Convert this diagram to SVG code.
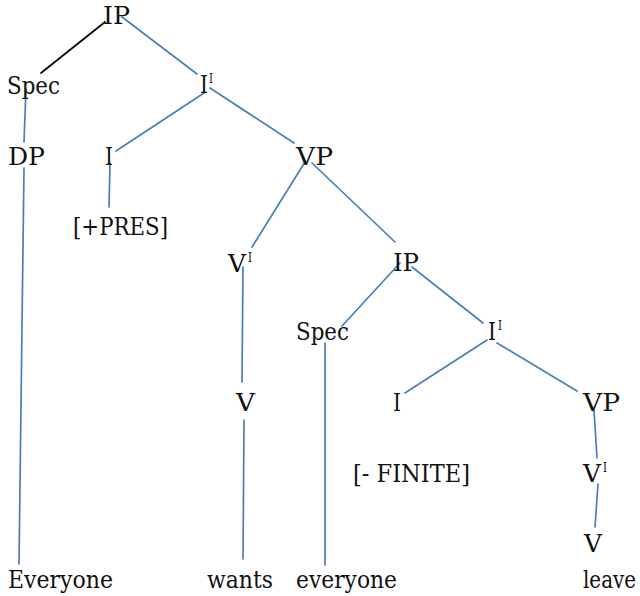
<svg xmlns="http://www.w3.org/2000/svg" width="640" height="596" viewBox="0 0 640 596">
  <style>
    .lbl { font-family: 'DejaVu Serif', serif; font-size: 25px; fill: #111; }
    .sup { font-size: 13px; }
    .edge { stroke: #4a7ebb; stroke-width: 1.7; fill: none; stroke-linecap: round; }
    .edge.dark { stroke: #000; }
  </style>
  <rect width="640" height="596" fill="#fff"/>

  <g id="connectors">
    <line class="edge dark" x1="105" y1="22" x2="41" y2="73"/>
    <line class="edge" x1="122" y1="17" x2="197" y2="74"/>
    <line class="edge" x1="26" y1="88" x2="24" y2="142"/>
    <line class="edge" x1="24" y1="168" x2="19" y2="564"/>
    <line class="edge" x1="204" y1="93" x2="116" y2="151"/>
    <line class="edge" x1="210" y1="88" x2="294" y2="143"/>
    <line class="edge" x1="110" y1="163" x2="109" y2="207"/>
    <line class="edge" x1="305" y1="162" x2="252" y2="247"/>
    <line class="edge" x1="312" y1="163" x2="395" y2="242"/>
    <line class="edge" x1="243" y1="267" x2="242" y2="382"/>
    <line class="edge" x1="244" y1="420" x2="243" y2="559"/>
    <line class="edge" x1="400" y1="263" x2="342" y2="326"/>
    <line class="edge" x1="412" y1="267" x2="483" y2="323"/>
    <line class="edge" x1="487" y1="340" x2="405" y2="393"/>
    <line class="edge" x1="497" y1="343" x2="577" y2="391"/>
    <line class="edge" x1="325" y1="343" x2="325" y2="565"/>
    <line class="edge" x1="594" y1="410" x2="597" y2="458"/>
    <line class="edge" x1="598" y1="484" x2="595" y2="527"/>
  </g>

  <g class="lbl">
    <g id="ip-root"><text x="103" y="24" textLength="27" lengthAdjust="spacingAndGlyphs">IP</text></g>
    <g id="spec-1"><text x="7" y="94" textLength="53" lengthAdjust="spacingAndGlyphs">Spec</text></g>
    <g id="ibar-1"><text x="200" y="93" textLength="8" lengthAdjust="spacingAndGlyphs">I</text><text class="sup" x="209" y="83" textLength="4" lengthAdjust="spacingAndGlyphs">I</text></g>
    <g id="dp"><text x="8" y="165" textLength="37" lengthAdjust="spacingAndGlyphs">DP</text></g>
    <g id="i-1"><text x="105" y="165" textLength="8" lengthAdjust="spacingAndGlyphs">I</text></g>
    <g id="vp-1"><text x="296" y="165" textLength="37" lengthAdjust="spacingAndGlyphs">VP</text></g>
    <g id="pres"><text x="73" y="235" textLength="95" lengthAdjust="spacingAndGlyphs">[+PRES]</text></g>
    <g id="vbar-1"><text x="228" y="272" textLength="18" lengthAdjust="spacingAndGlyphs">V</text><text class="sup" x="248" y="262" textLength="4" lengthAdjust="spacingAndGlyphs">I</text></g>
    <g id="ip-2"><text x="393" y="271" textLength="26" lengthAdjust="spacingAndGlyphs">IP</text></g>
    <g id="spec-2"><text x="296" y="340" textLength="53" lengthAdjust="spacingAndGlyphs">Spec</text></g>
    <g id="ibar-2"><text x="488" y="340" textLength="8" lengthAdjust="spacingAndGlyphs">I</text><text class="sup" x="498" y="330" textLength="4" lengthAdjust="spacingAndGlyphs">I</text></g>
    <g id="v-1"><text x="236" y="411" textLength="19" lengthAdjust="spacingAndGlyphs">V</text></g>
    <g id="i-2"><text x="393" y="411" textLength="8" lengthAdjust="spacingAndGlyphs">I</text></g>
    <g id="vp-2"><text x="583" y="411" textLength="37" lengthAdjust="spacingAndGlyphs">VP</text></g>
    <g id="finite"><text x="353" y="482" textLength="117" lengthAdjust="spacingAndGlyphs">[- FINITE]</text></g>
    <g id="vbar-2"><text x="583" y="482" textLength="18" lengthAdjust="spacingAndGlyphs">V</text><text class="sup" x="603" y="472" textLength="4" lengthAdjust="spacingAndGlyphs">I</text></g>
    <g id="v-2"><text x="584" y="552" textLength="18" lengthAdjust="spacingAndGlyphs">V</text></g>
    <g id="w-everyone"><text x="8" y="588" textLength="105" lengthAdjust="spacingAndGlyphs">Everyone</text></g>
    <g id="w-wants"><text x="207" y="588" textLength="66" lengthAdjust="spacingAndGlyphs">wants</text></g>
    <g id="w-everyone-2"><text x="296" y="588" textLength="101" lengthAdjust="spacingAndGlyphs">everyone</text></g>
    <g id="w-leave"><text x="583" y="588" textLength="53" lengthAdjust="spacingAndGlyphs">leave</text></g>
  </g>
</svg>
